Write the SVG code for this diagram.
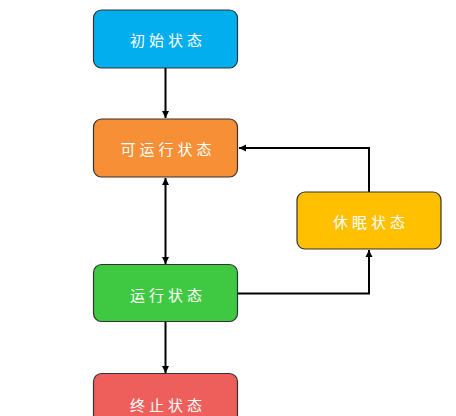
<svg xmlns="http://www.w3.org/2000/svg" width="456" height="416" viewBox="0 0 456 416">
<defs>
<style>
.box{stroke:#333333;stroke-width:1.2;}
.lbl{font-family:"Noto Sans CJK SC","Noto Sans",sans-serif;font-size:15px;fill:#ffffff;text-anchor:middle;dominant-baseline:central;letter-spacing:4px;}
.ln{stroke:#000000;stroke-width:2;fill:none;}
</style>
<marker id="ah" markerWidth="8" markerHeight="8" refX="7" refY="4" orient="auto-start-reverse" markerUnits="userSpaceOnUse">
<path d="M0,0.5 L7,4 L0,7.5 Z" fill="#000000"/>
</marker>
</defs>
<rect width="456" height="416" fill="#ffffff"/>
<g id="connectors">
<line class="ln" x1="165.5" y1="68" x2="165.5" y2="118" marker-end="url(#ah)"/>
<line class="ln" x1="165.5" y1="178" x2="165.5" y2="264" marker-start="url(#ah)" marker-end="url(#ah)"/>
<polyline class="ln" points="238,293.5 369,293.5 369,250" marker-end="url(#ah)"/>
<polyline class="ln" points="369,192 369,148 239,148" marker-end="url(#ah)"/>
<line class="ln" x1="165.5" y1="322" x2="165.5" y2="373" marker-end="url(#ah)"/>
</g>
<g id="node-init">
<rect class="box" x="93.5" y="10" width="144" height="58" rx="8" fill="#03AEEF"/>
<text class="lbl" x="168" y="39.5">初始状态</text>
</g>
<g id="node-runnable">
<rect class="box" x="93.5" y="119" width="144" height="58" rx="8" fill="#F68F35"/>
<text class="lbl" x="168" y="148.5">可运行状态</text>
</g>
<g id="node-sleep">
<rect class="box" x="297" y="192" width="144" height="57" rx="8" fill="#FFC000"/>
<text class="lbl" x="371" y="221">休眠状态</text>
</g>
<g id="node-running">
<rect class="box" x="93.5" y="264.5" width="144" height="57" rx="8" fill="#3FC943"/>
<text class="lbl" x="168" y="294">运行状态</text>
</g>
<g id="node-terminated">
<rect class="box" x="93.5" y="373.5" width="144" height="58" rx="8" fill="#EE5E5A"/>
<text class="lbl" x="168" y="404">终止状态</text>
</g>
</svg>
